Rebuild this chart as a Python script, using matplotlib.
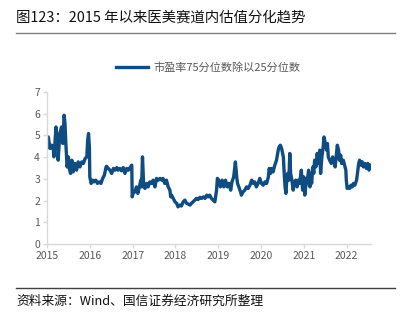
import matplotlib
matplotlib.use("Agg")
import matplotlib.pyplot as plt
from matplotlib.lines import Line2D

plt.rcParams['font.family'] = ['Noto Sans CJK SC', 'DejaVu Sans']

# Ratio of 75th to 25th percentile P/E (decimal years, ratio)
years = [
    2015.00, 2015.03, 2015.07, 2015.11, 2015.15, 2015.16, 2015.19, 2015.21, 2015.24, 2015.26,
    2015.30, 2015.34, 2015.37, 2015.40, 2015.42, 2015.44, 2015.47, 2015.50, 2015.52, 2015.55,
    2015.58, 2015.61, 2015.65, 2015.69, 2015.73, 2015.77, 2015.81, 2015.85, 2015.89, 2015.93,
    2015.95, 2015.97, 2015.99, 2016.00, 2016.03, 2016.07, 2016.10, 2016.14, 2016.18, 2016.22,
    2016.26, 2016.30, 2016.34, 2016.38, 2016.39, 2016.43, 2016.47, 2016.51, 2016.55, 2016.59,
    2016.63, 2016.66, 2016.70, 2016.74, 2016.78, 2016.82, 2016.86, 2016.90, 2016.94, 2016.98,
    2016.99, 2017.01, 2017.05, 2017.09, 2017.12, 2017.15, 2017.19, 2017.21, 2017.23, 2017.26,
    2017.29, 2017.33, 2017.36, 2017.40, 2017.44, 2017.48, 2017.52, 2017.56, 2017.60, 2017.64,
    2017.68, 2017.71, 2017.75, 2017.79, 2017.83, 2017.87, 2017.89, 2017.91, 2017.95, 2017.99,
    2018.03, 2018.06, 2018.10, 2018.14, 2018.18, 2018.22, 2018.26, 2018.30, 2018.34, 2018.38,
    2018.41, 2018.45, 2018.49, 2018.53, 2018.57, 2018.61, 2018.65, 2018.69, 2018.73, 2018.76,
    2018.80, 2018.84, 2018.88, 2018.92, 2018.96, 2018.98, 2019.01, 2019.05, 2019.09, 2019.13,
    2019.17, 2019.21, 2019.25, 2019.29, 2019.32, 2019.36, 2019.40, 2019.43, 2019.45, 2019.48,
    2019.52, 2019.54, 2019.58, 2019.62, 2019.66, 2019.70, 2019.74, 2019.78, 2019.82, 2019.85,
    2019.89, 2019.93, 2019.97, 2020.01, 2020.05, 2020.09, 2020.13, 2020.17, 2020.19, 2020.22,
    2020.25, 2020.28, 2020.32, 2020.36, 2020.40, 2020.42, 2020.45, 2020.48, 2020.52, 2020.54,
    2020.56, 2020.58, 2020.60, 2020.62, 2020.65, 2020.67, 2020.69, 2020.72, 2020.75, 2020.78,
    2020.81, 2020.84, 2020.87, 2020.90, 2020.94, 2020.97, 2021.00, 2021.02, 2021.04, 2021.08,
    2021.11, 2021.14, 2021.16, 2021.18, 2021.21, 2021.23, 2021.25, 2021.28, 2021.31, 2021.34,
    2021.37, 2021.39, 2021.42, 2021.45, 2021.47, 2021.50, 2021.53, 2021.55, 2021.57, 2021.60,
    2021.64, 2021.67, 2021.70, 2021.73, 2021.76, 2021.78, 2021.81, 2021.83, 2021.86, 2021.88,
    2021.92, 2021.95, 2021.98, 2021.99, 2022.01, 2022.04, 2022.07, 2022.10, 2022.13, 2022.16,
    2022.19, 2022.23, 2022.26, 2022.28, 2022.30, 2022.33, 2022.36, 2022.39, 2022.42, 2022.46,
    2022.49, 2022.52, 2022.55,
]
ratio = [
    4.47, 4.93, 4.40, 4.55, 4.32, 4.01, 4.78, 5.39, 4.78, 3.86,
    5.09, 5.39, 4.63, 5.93, 5.55, 4.63, 3.55, 4.01, 3.48, 3.25,
    3.86, 3.32, 3.71, 3.40, 3.78, 3.55, 3.78, 3.71, 3.94, 4.01,
    4.78, 5.09, 4.47, 3.09, 2.79, 2.94, 2.86, 2.94, 2.79, 2.86,
    2.79, 3.02, 3.17, 3.55, 3.58, 3.48, 3.40, 3.25, 3.48, 3.40,
    3.52, 3.40, 3.48, 3.37, 3.52, 3.25, 3.48, 3.40, 3.52, 3.63,
    2.17, 2.33, 2.40, 2.63, 2.33, 2.56, 2.94, 2.63, 4.01, 2.63,
    2.56, 2.79, 2.63, 2.86, 2.79, 2.94, 2.63, 3.02, 2.94, 3.02,
    2.94, 3.02, 2.79, 2.94, 2.63, 2.48, 2.17, 2.25, 2.10, 1.94,
    1.87, 1.71, 1.79, 1.75, 1.94, 2.02, 1.87, 1.84, 1.79, 1.89,
    1.94, 2.02, 2.10, 2.05, 2.15, 2.10, 2.17, 2.10, 2.25, 2.17,
    2.25, 2.10, 2.02, 1.94, 2.48, 3.02, 2.94, 2.63, 2.94, 2.63,
    2.94, 2.63, 2.79, 2.48, 2.86, 3.09, 3.78, 3.09, 2.79, 2.63,
    2.40, 2.25, 2.40, 2.48, 2.63, 2.56, 2.71, 2.94, 2.79, 2.86,
    2.63, 2.79, 3.02, 2.79, 2.71, 2.86, 2.79, 3.09, 3.48, 3.25,
    3.48, 3.32, 3.63, 3.86, 4.32, 4.47, 4.55, 4.40, 4.01, 3.25,
    2.63, 2.33, 2.94, 3.25, 2.94, 4.17, 3.25, 2.94, 2.48, 2.86,
    2.94, 2.63, 2.94, 2.79, 3.40, 2.48, 3.09, 2.25, 2.63, 2.94,
    3.40, 2.63, 3.25, 2.79, 3.55, 3.25, 3.86, 3.55, 4.17, 3.71,
    4.32, 3.25, 4.01, 4.47, 4.93, 4.63, 4.32, 4.63, 4.01, 3.86,
    3.71, 4.01, 3.86, 3.55, 4.17, 4.55, 4.32, 3.86, 4.09, 3.71,
    3.86, 3.63, 3.40, 2.94, 2.56, 2.63, 2.56, 2.71, 2.63, 2.79,
    2.71, 2.94, 3.40, 3.71, 3.86, 3.63, 3.79, 3.55, 3.71, 3.48,
    3.71, 3.40, 3.63,
]
year_ticks = [2015, 2016, 2017, 2018, 2019, 2020, 2021, 2022]
value_ticks = [0, 1, 2, 3, 4, 5, 6, 7]
series_label = "市盈率75分位数除以25分位数"
title_text = "图123：2015 年以来医美赛道内估值分化趋势"
source_text = "资料来源：Wind、国信证券经济研究所整理"

W, H = 406, 323
fig = plt.figure(figsize=(W / 100, H / 100), dpi=100)
ax = fig.add_axes([47 / W, 1 - 244 / H, (370.7 - 47) / W, (244 - 92) / H])

line_color = "#0f4c81"
ax.plot(years, ratio, color=line_color, lw=2.4, solid_joinstyle="round")

ax.set_xlim(2015, 2022.56)
ax.set_ylim(0, 7)
ax.set_xticks(year_ticks)
ax.set_xticklabels([str(y) for y in year_ticks])
ax.set_yticks(value_ticks)

for side in ("top", "right"):
    ax.spines[side].set_visible(False)
for side in ("left", "bottom"):
    ax.spines[side].set_color("#d9d9d9")
    ax.spines[side].set_linewidth(1.0)
ax.tick_params(axis="both", colors="#d9d9d9", labelcolor="#595959",
               labelsize=7.5, length=3, width=1.0, pad=2)

ax.legend([Line2D([0], [0], color=line_color, lw=2.4)], [series_label],
          loc="center", bbox_to_anchor=(208 / W, 1 - 68 / H),
          bbox_transform=fig.transFigure, frameon=False, fontsize=8,
          handlelength=2.9, handletextpad=0.5, labelcolor="#595959")

fig.text(16 / W, 1 - 18 / H, title_text, fontsize=10.4, color="#111111",
         ha="left", va="center")
fig.add_artist(Line2D([16 / W, 395 / W], [1 - 33 / H, 1 - 33 / H],
                      color="#7f7f7f", lw=1.0))
fig.add_artist(Line2D([16 / W, 395 / W], [1 - 288 / H, 1 - 288 / H],
                      color="#404040", lw=1.0))
fig.text(16 / W, 1 - 301 / H, source_text, fontsize=9.2, color="#111111",
         ha="left", va="center")

fig.savefig("out.png", dpi=100)
